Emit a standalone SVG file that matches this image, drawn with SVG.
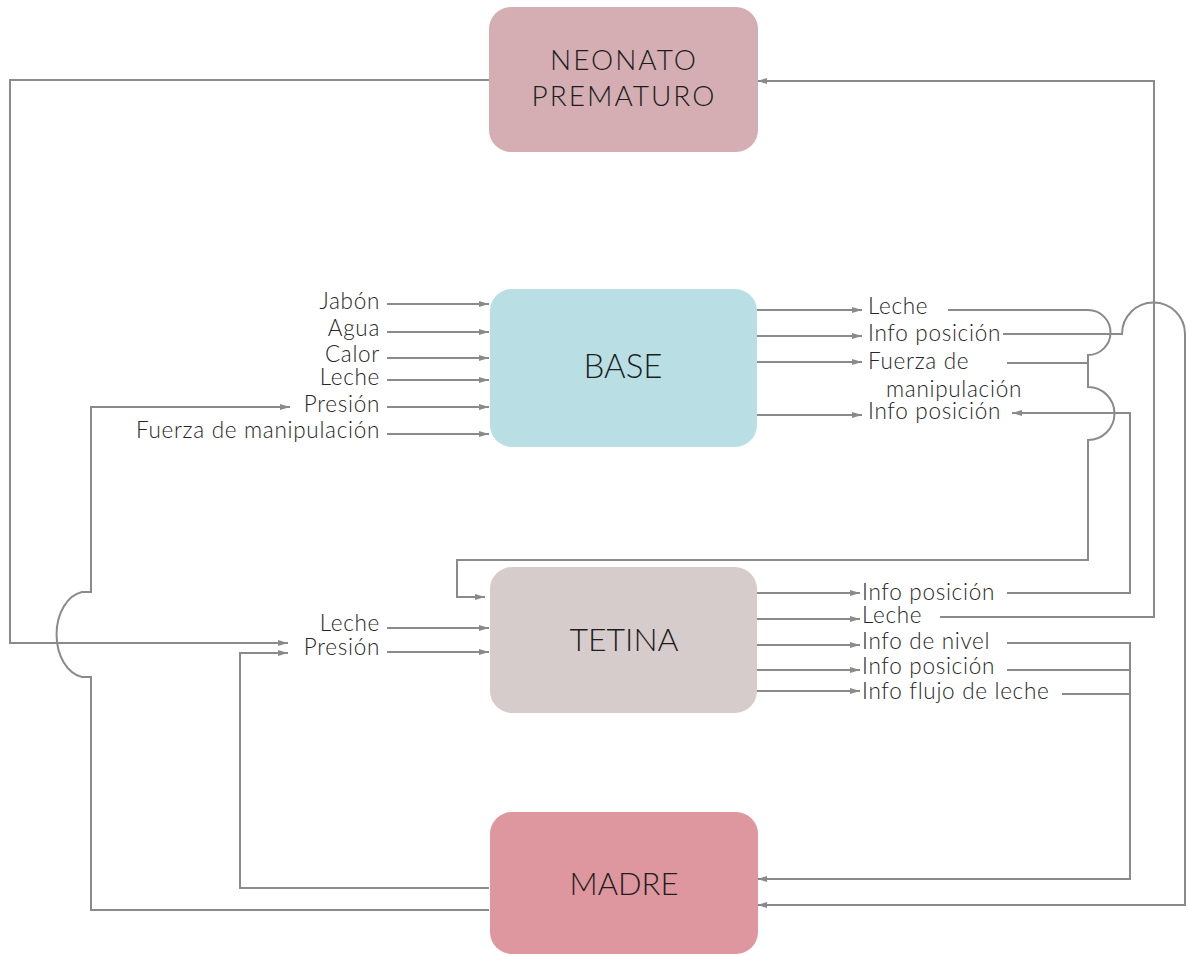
<svg xmlns="http://www.w3.org/2000/svg" width="1189" height="956" viewBox="0 0 1189 956">
  <defs>
    <marker id="arrow" viewBox="0 0 10 6" refX="10" refY="3" markerWidth="10" markerHeight="6" markerUnits="userSpaceOnUse" orient="auto">
      <path d="M0,0 L10,3 L0,6 Z" fill="#8a8a8a"/>
    </marker>
    <style>
      .box { stroke: none; }
      .title { font-family: Lato, "Open Sans", sans-serif; font-weight: 300; fill: #1e1e1e; text-anchor: middle; }
      .lbl { font-family: Lato, "Open Sans", sans-serif; font-weight: 300; font-size: 22.5px; fill: #262626; letter-spacing: 0.7px; }
      .end { text-anchor: end; }
      .wire { fill: none; stroke: #8a8a8a; stroke-width: 2; }
      .arr { marker-end: url(#arrow); }
    </style>
  </defs>

  <rect width="1189" height="956" fill="#ffffff"/>

  <!-- connectors -->
  <g id="connectors">
    <!-- BASE inputs -->
    <path class="wire arr" d="M387,304 H489"/>
    <path class="wire arr" d="M387,332 H489"/>
    <path class="wire arr" d="M387,358 H489"/>
    <path class="wire arr" d="M387,380 H489"/>
    <path class="wire arr" d="M387,407 H489"/>
    <path class="wire arr" d="M387,434 H489"/>

    <!-- BASE outputs -->
    <path class="wire arr" d="M757,310 H862"/>
    <path class="wire arr" d="M757,336 H862"/>
    <path class="wire arr" d="M757,362 H862"/>
    <path class="wire arr" d="M757,415 H862"/>

    <!-- TETINA inputs -->
    <path class="wire arr" d="M387,628 H489"/>
    <path class="wire arr" d="M387,652 H489"/>

    <!-- TETINA outputs -->
    <path class="wire arr" d="M757,593 H860"/>
    <path class="wire arr" d="M757,619 H860"/>
    <path class="wire arr" d="M757,645 H860"/>
    <path class="wire arr" d="M757,670 H860"/>
    <path class="wire arr" d="M757,691 H860"/>

    <!-- NEONATO -> TETINA presión -->
    <path class="wire arr" d="M489,80 H10 V643 H288"/>
    <!-- MADRE -> TETINA presión -->
    <path class="wire arr" d="M489,888 H240 V653 H288"/>
    <!-- MADRE -> BASE presión (hops over the NEONATO line) -->
    <path class="wire arr" d="M489,910 H91 V677 H82 A30,43 0 0 1 82,592 H91 V407 H290"/>

    <!-- BASE leche + fuerza -> TETINA (hops over two crossings) -->
    <path class="wire arr" d="M948,310 H1088 A22.5,22.5 0 0 1 1088,355 V387 A26.5,26.5 0 0 1 1088,440 V560 H457 V597 H485"/>
    <path class="wire" d="M1007,363 H1088"/>

    <!-- BASE info posición -> MADRE (hops over the NEONATO riser) -->
    <path class="wire arr" d="M1003,334 H1122 A31.5,31.5 0 0 1 1185,334 V905 H757"/>

    <!-- TETINA info posición -> BASE info posición -->
    <path class="wire arr" d="M1007,593 H1130 V413 H1012"/>

    <!-- TETINA leche -> NEONATO -->
    <path class="wire arr" d="M940,617 H1154 V81 H757"/>

    <!-- TETINA info -> MADRE -->
    <path class="wire arr" d="M1007,643 H1130 V879 H757"/>
    <path class="wire" d="M1007,670 H1130"/>
    <path class="wire" d="M1062,694 H1130"/>
  </g>

  <!-- nodes -->
  <g id="neonato">
    <rect class="box" x="489" y="7" width="269" height="145" rx="22" fill="#d4aeb2"/>
    <text class="title" x="624" y="70" font-size="28" letter-spacing="2">NEONATO</text>
    <text class="title" x="624" y="106" font-size="28" letter-spacing="2">PREMATURO</text>
  </g>

  <g id="base">
    <rect class="box" x="490" y="289" width="267" height="158" rx="22" fill="#b9dfe5"/>
    <text class="title" x="623" y="378" font-size="33">BASE</text>
  </g>

  <g id="tetina">
    <rect class="box" x="490" y="567" width="267" height="146" rx="22" fill="#d6cccc"/>
    <text class="title" x="624" y="651" font-size="32">TETINA</text>
  </g>

  <g id="madre">
    <rect class="box" x="490" y="812" width="268" height="142" rx="22" fill="#de969f"/>
    <text class="title" x="624" y="895" font-size="31">MADRE</text>
  </g>

  <!-- flow labels -->
  <g id="labels">
    <text class="lbl end" x="380" y="309">Jabón</text>
    <text class="lbl end" x="380" y="336">Agua</text>
    <text class="lbl end" x="380" y="362">Calor</text>
    <text class="lbl end" x="380" y="385">Leche</text>
    <text class="lbl end" x="380" y="412">Presión</text>
    <text class="lbl end" x="380" y="438">Fuerza de manipulación</text>

    <text class="lbl" x="868" y="314">Leche</text>
    <text class="lbl" x="868" y="341">Info posición</text>
    <text class="lbl" x="868" y="369">Fuerza de</text>
    <text class="lbl" x="886" y="397">manipulación</text>
    <text class="lbl" x="868" y="419">Info posición</text>

    <text class="lbl end" x="380" y="631">Leche</text>
    <text class="lbl end" x="380" y="655">Presión</text>

    <text class="lbl" x="862" y="600">Info posición</text>
    <text class="lbl" x="862" y="623">Leche</text>
    <text class="lbl" x="862" y="649">Info de nivel</text>
    <text class="lbl" x="862" y="674">Info posición</text>
    <text class="lbl" x="862" y="699">Info flujo de leche</text>
  </g>
</svg>
